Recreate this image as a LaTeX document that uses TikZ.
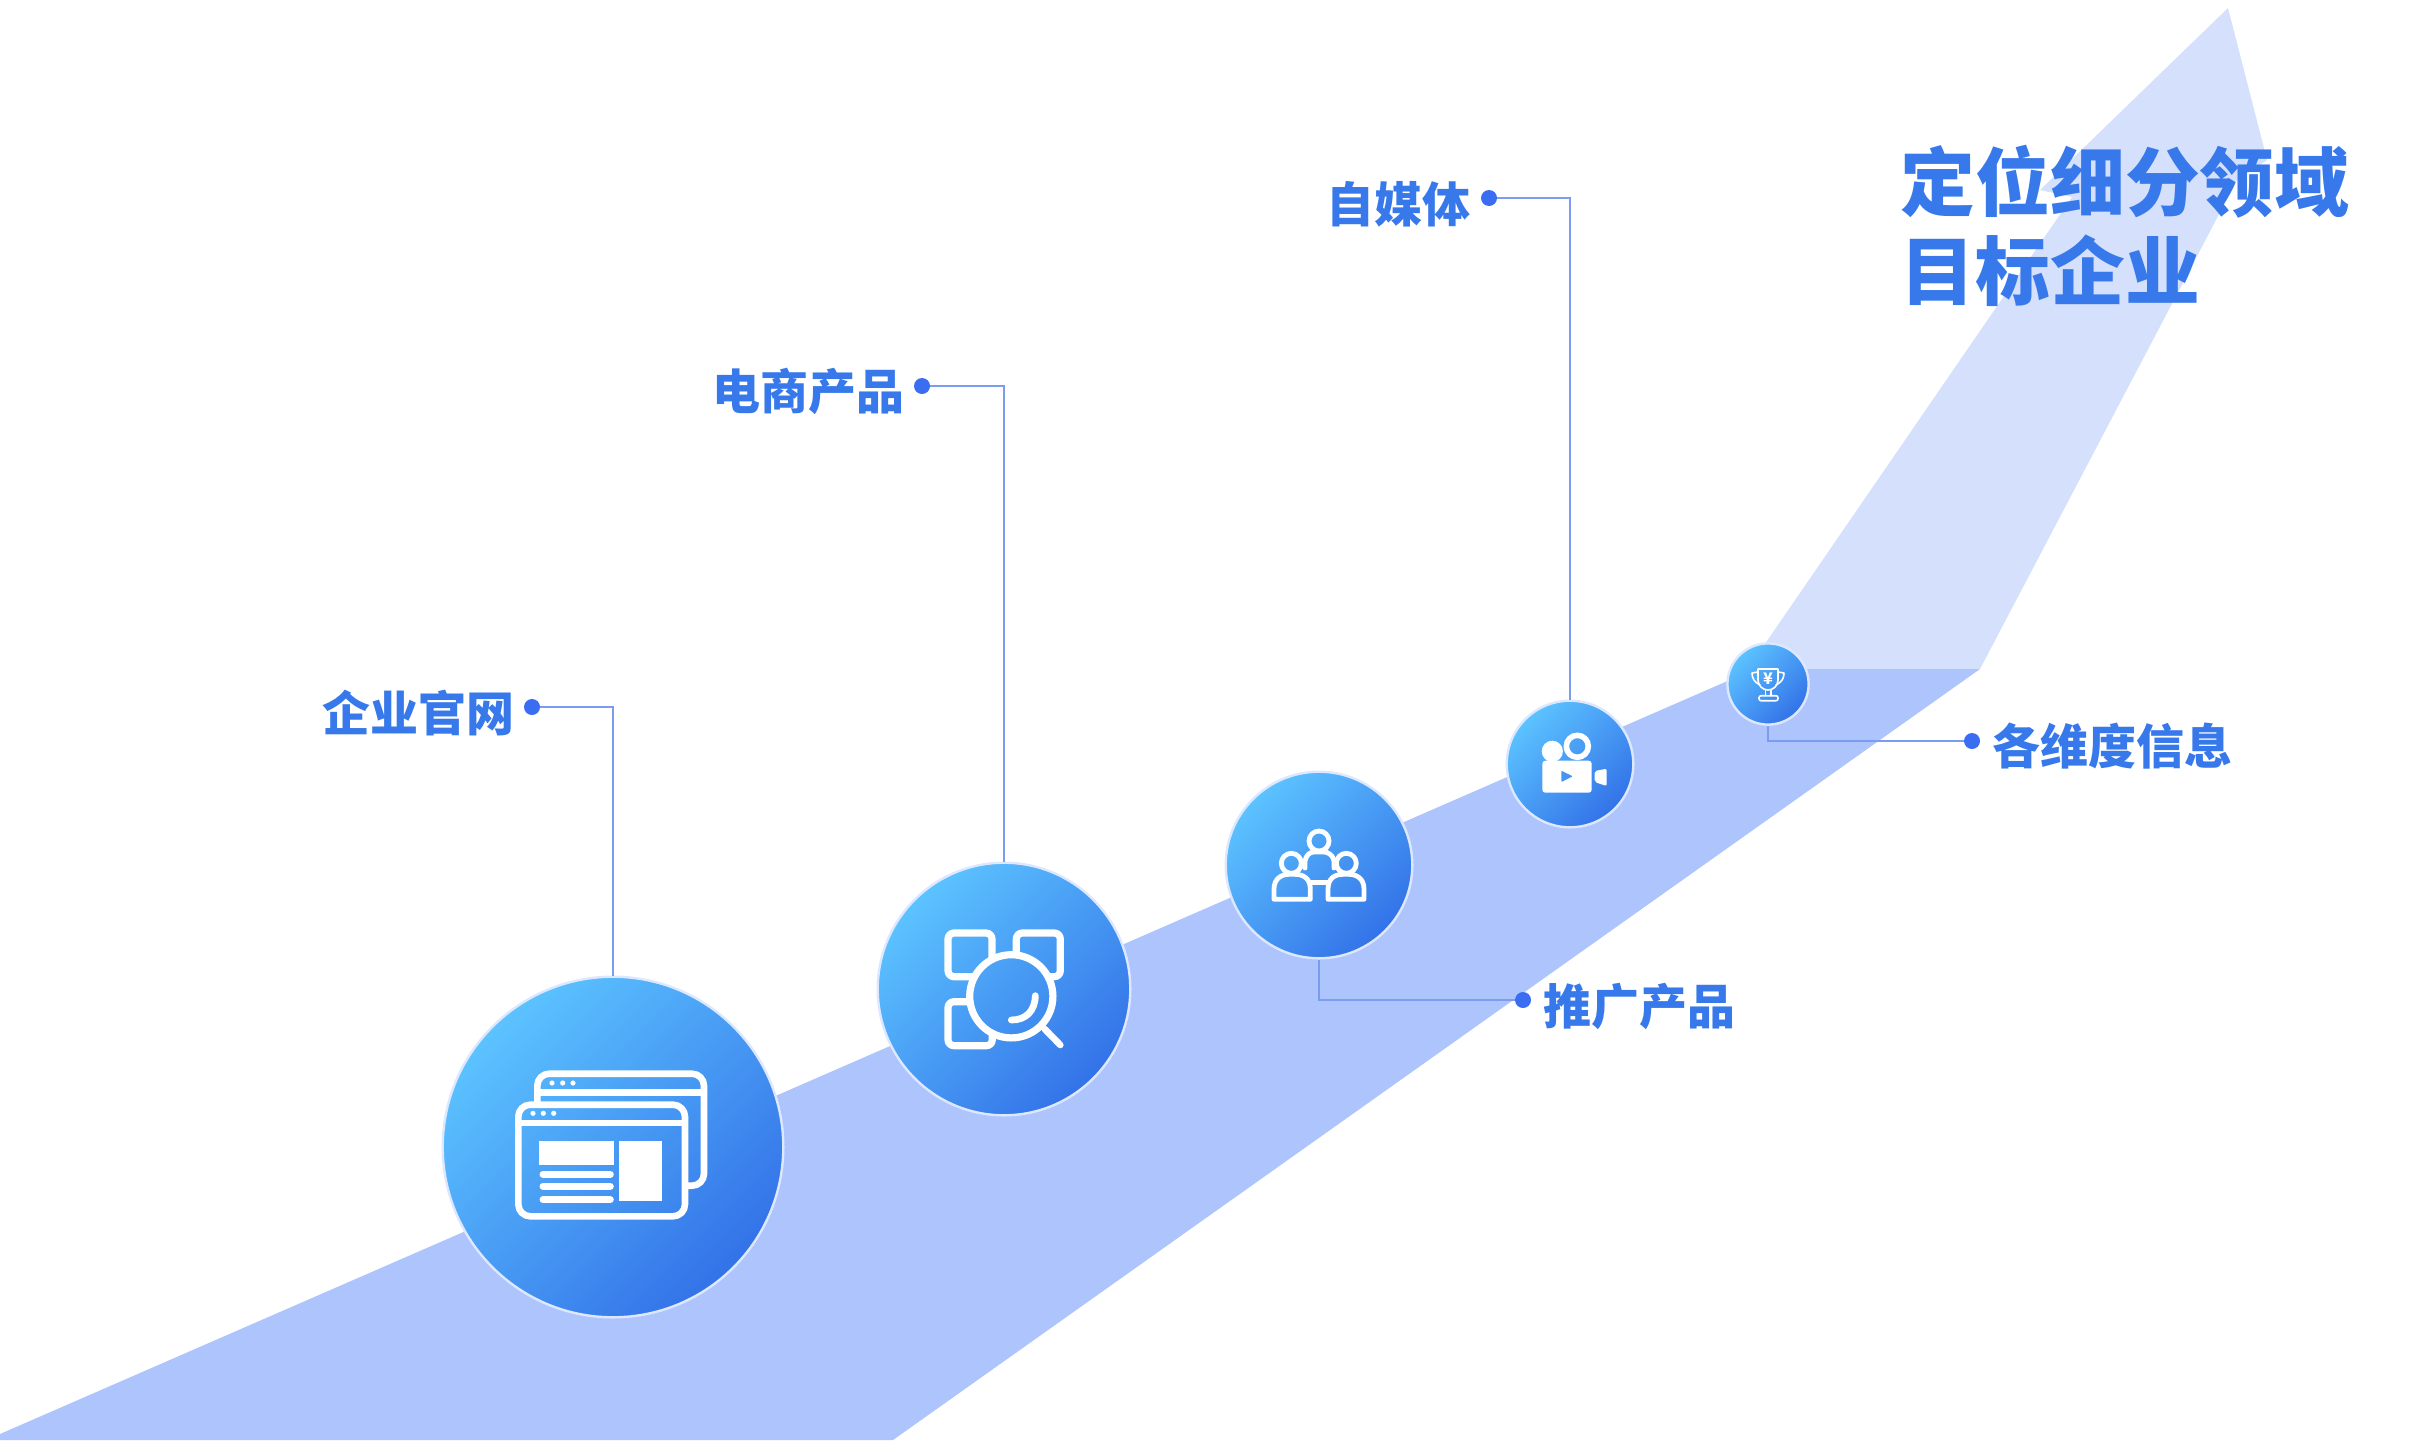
\documentclass[tikz,border=0pt]{standalone}
\usepackage{fontspec}
\setmainfont{Noto Sans CJK SC}[BoldFont={Noto Sans CJK SC Black}]
\begin{document}
\begin{tikzpicture}[x=0.5pt,y=-0.5pt]
  \tikzset{
    ball/.style={circle,inner sep=0pt,draw=ringblue,line width=1.2pt,
      top color=ballhi,bottom color=balllo,shading angle=45},
    tag/.style={inner sep=0pt,text=textblue,font=\bfseries\fontsize{24}{24}\selectfont},
    dot/.style={circle,inner sep=0pt,minimum size=8pt,fill=dotblue},
    lead/.style={draw=leadblue,line width=0.7pt},
    iconline/.style={draw=white,line width=3.3pt,line cap=round,line join=round},
    iconfill/.style={fill=white,draw=none},
  }
  \definecolor{ringblue}{HTML}{DDE8FF}
  \definecolor{ballhi}{HTML}{5CC3FF}
  \definecolor{balllo}{HTML}{3372E8}
  \definecolor{textblue}{HTML}{3779EA}
  \definecolor{dotblue}{HTML}{3A6DF2}
  \definecolor{leadblue}{HTML}{7C9CF2}
  \definecolor{bandblue}{HTML}{AEC4FD}
  \definecolor{paleblue}{HTML}{D4E0FC}
  \useasboundingbox (0,0) rectangle (2434,1440);
  \fill[paleblue] (1747,670) -- (2072,197) -- (2040,190) -- (2228,8) -- (2267,160) -- (2237,180) -- (1980,669) -- cycle;
  \fill[bandblue] (0,1434) -- (1755,669) -- (1980,669) -- (893,1440) -- (0,1440) -- cycle;
  \node[tag,anchor=center,font=\bfseries\fontsize{37.4}{44.5}\selectfont,align=left] (title) at (2125,226) {定位细分领域\\目标企业};
  \node[ball,minimum size=170.3pt] (web) at (613,1147) {};
  \node[ball,minimum size=126.3pt] (scan) at (1004,989) {};
  \node[ball,minimum size=93.3pt] (team) at (1319,865) {};
  \node[ball,minimum size=63.3pt] (video) at (1570,764) {};
  \node[ball,minimum size=40.6pt] (cup) at (1768,684) {};
  \node[dot] (webdot) at (532,707) {};
  \node[dot] (scandot) at (922,386) {};
  \node[dot] (teamdot) at (1523,1000) {};
  \node[dot] (videodot) at (1489,198) {};
  \node[dot] (cupdot) at (1972,741) {};
  \node[tag,anchor=east] (webtag) at (515,713) {企业官网};
  \node[tag,anchor=east] (scantag) at (905,391) {电商产品};
  \node[tag,anchor=west] (teamtag) at (1543,1006) {推广产品};
  \node[tag,anchor=east] (videotag) at (1471,204) {自媒体};
  \node[tag,anchor=west] (cuptag) at (1992,746) {各维度信息};
  \draw[lead] (webdot) -| (web);
  \draw[lead] (scandot) -| (scan);
  \draw[lead] (videodot) -| (video);
  \draw[lead] (teamdot) -| (team);
  \draw[lead] (cupdot) -| (cup);
  \begin{scope}[shift={(web.center)}]
    \draw[iconline,rounded corners=6pt] (-75.7,-45) -- (-75.7,-73.3) -- (91,-73.3) -- (91,38.7) -- (74,38.7);
    \draw[iconline,line cap=butt] (-75.7,-54.7) -- (91,-54.7);
    \draw[iconline,rounded corners=6pt] (-94.7,-42.3) rectangle (72,69.3);
    \draw[iconline,line cap=butt] (-94.7,-24) -- (72,-24);
    \foreach \dotx in {-61,-50.3,-40} \fill[white] (\dotx,-64) circle (1.3pt);
    \foreach \dotx in {-80,-69.7,-59.3} \fill[white] (\dotx,-33.7) circle (1.3pt);
    \fill[iconfill] (-73.7,-6) rectangle (1,18.3);
    \fill[iconfill] (6,-6) rectangle (49.3,54);
    \foreach \liney in {27.3,39.3,52.7} \draw[iconline,line width=3.5pt] (-70,\liney) -- (-2.7,\liney);
  \end{scope}
  \begin{scope}[shift={(scan.center)}]
    \draw[iconline,line width=3.6pt,rounded corners=3pt,line cap=butt] (-12,-29.7) -- (-12,-56) -- (-56,-56) -- (-56,-12.3) -- (-29.7,-12.3);
    \draw[iconline,line width=3.6pt,rounded corners=3pt,line cap=butt] (12.3,-34) -- (12.3,-56) -- (56.3,-56) -- (56.3,-12.3) -- (44,-12.3);
    \draw[iconline,line width=3.6pt,rounded corners=3pt,line cap=butt] (-34,12.7) -- (-56,12.7) -- (-56,56.7) -- (-11.7,56.7) -- (-11.7,44);
    \draw[iconline,line width=3.6pt] (7.3,7.3) circle (20.8pt);
    \draw[iconline] (40.7,40) -- (56.3,56);
    \draw[iconline,line width=3.4pt] (31.3,6.7) .. controls (31,22) and (22,31) .. (7.3,31);
  \end{scope}
  \begin{scope}[shift={(team.center)},iconline/.append style={line width=2.4pt}]
    \draw[iconline] (0,-24) circle (5pt);
    \draw[iconline] (-27.7,-1.7) circle (5pt);
    \draw[iconline] (27.3,-1.7) circle (5pt);
    \draw[iconline] (-8.7,34.3) -- (-45,34.3) -- (-45,24) .. controls (-45,14) and (-38,9.3) .. (-30,9.3) -- (-24,9.3) .. controls (-15,9.3) and (-8.7,14) .. (-8.7,24) -- cycle;
    \draw[iconline] (45,34.3) -- (9,34.3) -- (9,24) .. controls (9,14) and (15,9.3) .. (24,9.3) -- (30,9.3) .. controls (38,9.3) and (45,14) .. (45,24) -- cycle;
    \draw[iconline] (-14,3) -- (-14,-4) .. controls (-13,-10) and (-9,-13) .. (-5,-13) -- (5,-13) .. controls (9,-13) and (14,-10) .. (15,-4) -- (15,3);
    \draw[iconline,line cap=butt] (-8,17.7) -- (9,17.7);
  \end{scope}
  \begin{scope}[shift={(video.center)}]
    \fill[iconfill,rounded corners=1.5pt] (-27.7,-3.3) rectangle (21.7,28.7);
    \fill[iconfill] (-17.7,-12.7) circle (5.3pt);
    \draw[iconline,line width=2.8pt] (7.3,-17.7) circle (5.5pt);
    \fill[ballhi!45!balllo,rounded corners=0.5pt] (-8.7,6.7) -- (2.7,12.3) -- (-8.7,18) -- cycle;
    \fill[iconfill,rounded corners=1pt] (24.7,7) -- (36.7,4.7) -- (36.7,22) -- (24.7,18) -- cycle;
  \end{scope}
  \begin{scope}[shift={(cup.center)},iconline/.append style={line width=0.8pt}]
    \draw[iconline] (-10,-15) -- (10,-15) -- (10,-4) .. controls (10,2) and (5,6) .. (0,6) .. controls (-5,6) and (-10,2) .. (-10,-4) -- cycle;
    \draw[iconline] (-10,-12) -- (-16,-11) .. controls (-16,-6) and (-14,-2) .. (-8,1);
    \draw[iconline] (10,-12) -- (16,-11) .. controls (16,-6) and (14,-2) .. (8,1);
    \draw[iconline] (-2.7,6) -- (-2.7,11.7);
    \draw[iconline] (2.7,6) -- (2.7,11.7);
    \draw[iconline,rounded corners=1pt] (-9,11.7) rectangle (10,16.7);
    \node[inner sep=0pt,text=white,font=\bfseries\fontsize{8}{8}\selectfont] (yen) at (0,-5) {¥};
  \end{scope}
\end{tikzpicture}
\end{document}
